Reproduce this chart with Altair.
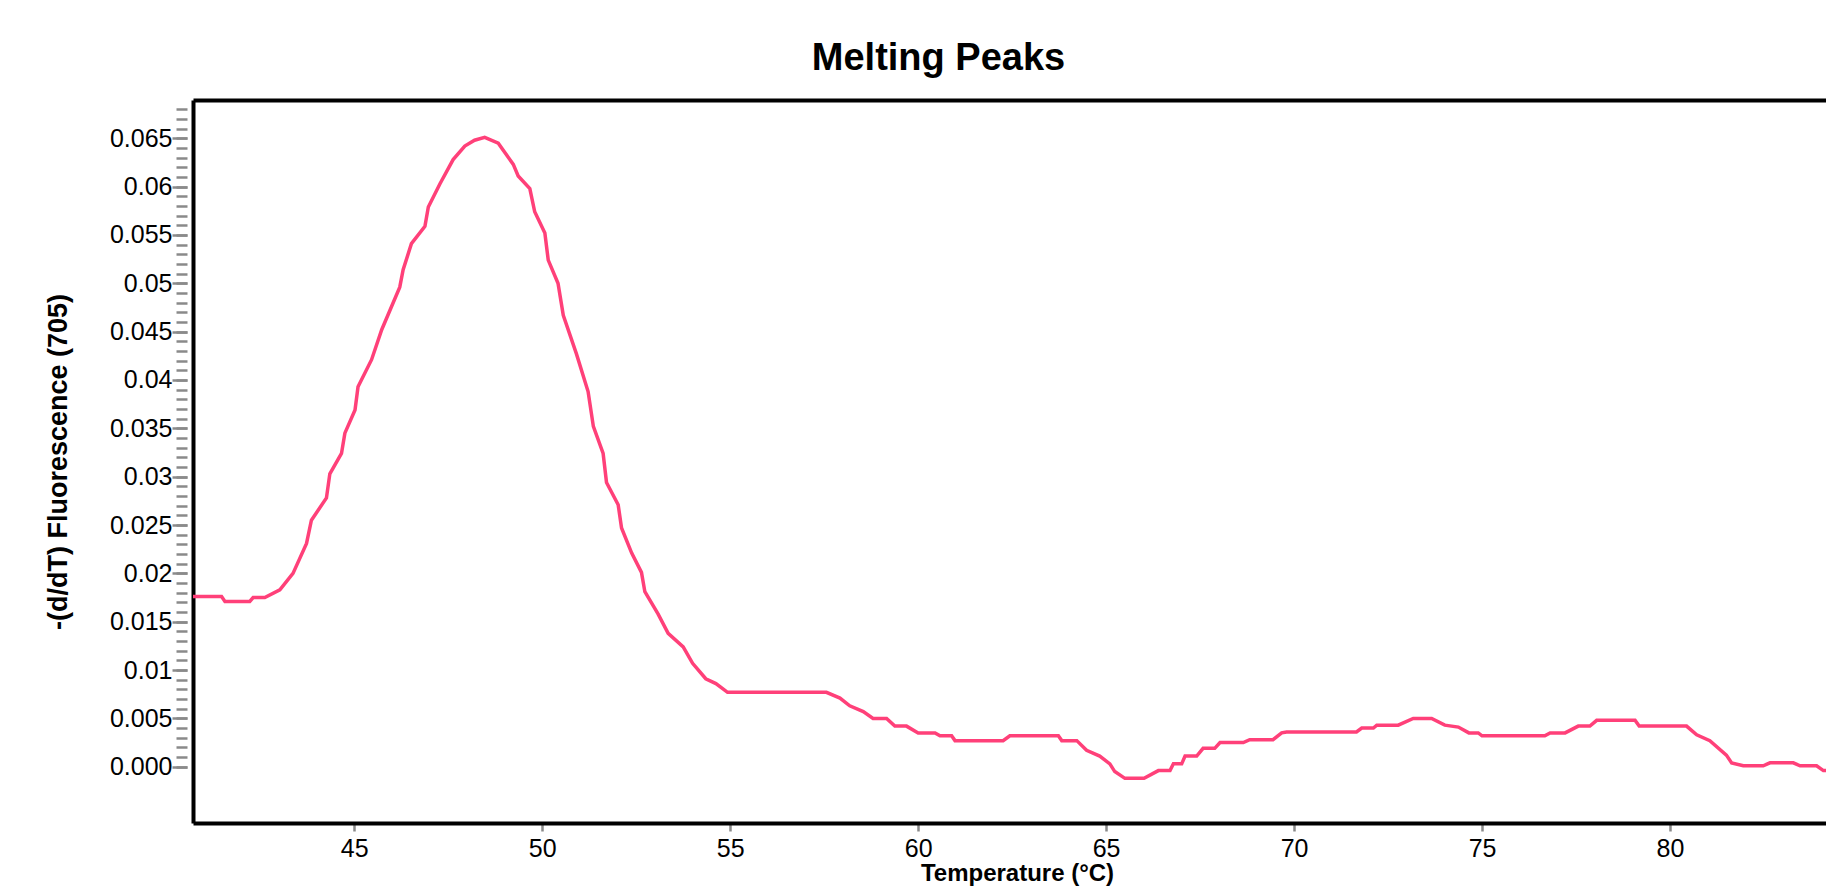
import altair as alt
import pandas as pd

# ---- data ----
TEMPS = [40.60, 41.47, 41.56, 42.22, 42.31, 42.62, 43.02, 43.37, 43.73, 43.86,
         44.26, 44.35, 44.66, 44.75, 45.02, 45.10, 45.46, 45.73, 46.21, 46.30,
         46.52, 46.88, 46.97, 47.28, 47.63, 47.94, 48.20, 48.47, 48.83, 49.23,
         49.36, 49.67, 49.80, 50.07, 50.16, 50.42, 50.56, 50.91, 51.22, 51.36,
         51.62, 51.71, 52.02, 52.11, 52.38, 52.64, 52.73, 53.08, 53.35, 53.75,
         54.00, 54.35, 54.62, 54.93, 57.56, 57.92, 58.18, 58.54, 58.80, 59.16,
         59.38, 59.69, 60.00, 60.45, 60.58, 60.89, 60.98, 62.26, 62.44, 63.73,
         63.82, 64.22, 64.48, 64.83, 65.10, 65.23, 65.50, 66.01, 66.39, 66.70,
         66.79, 67.01, 67.10, 67.41, 67.58, 67.89, 68.03, 68.65, 68.82, 69.44,
         69.67, 69.80, 71.66, 71.80, 72.11, 72.20, 72.77, 73.17, 73.66, 74.01,
         74.37, 74.65, 74.90, 75.00, 76.67, 76.81, 77.21, 77.56, 77.87, 78.05,
         79.07, 79.18, 80.44, 80.71, 81.06, 81.50, 81.64, 81.95, 82.48, 82.66,
         83.28, 83.46, 83.90, 84.08, 84.40]
VALUES = [0.0176, 0.0176, 0.0171, 0.0171, 0.0175, 0.0175, 0.0183, 0.0200, 0.0231, 0.0255,
          0.0278, 0.0303, 0.0324, 0.0345, 0.0369, 0.0393, 0.0421, 0.0452, 0.0496, 0.0514,
          0.0541, 0.0559, 0.0579, 0.0603, 0.0628, 0.0642, 0.0648, 0.0651, 0.0645, 0.0623,
          0.0611, 0.0598, 0.0574, 0.0552, 0.0524, 0.0500, 0.0467, 0.0427, 0.0388, 0.0352,
          0.0324, 0.0294, 0.0271, 0.0247, 0.0221, 0.0201, 0.0181, 0.0158, 0.0138, 0.0124,
          0.0107, 0.0091, 0.0086, 0.0077, 0.0077, 0.0071, 0.0063, 0.0057, 0.0050, 0.0050,
          0.0042, 0.0042, 0.0035, 0.0035, 0.0032, 0.0032, 0.0027, 0.0027, 0.0032, 0.0032,
          0.0027, 0.0027, 0.0017, 0.0011, 0.0003, -0.0005, -0.0012, -0.0012, -0.0004, -0.0004,
          0.0003, 0.0003, 0.0011, 0.0011, 0.0019, 0.0019, 0.0025, 0.0025, 0.0028, 0.0028,
          0.0035, 0.0036, 0.0036, 0.0040, 0.0040, 0.0043, 0.0043, 0.0050, 0.0050, 0.0043,
          0.0041, 0.0035, 0.0035, 0.0032, 0.0032, 0.0035, 0.0035, 0.0042, 0.0042, 0.0048,
          0.0048, 0.0042, 0.0042, 0.0033, 0.0027, 0.0012, 0.0004, 0.0001, 0.0001, 0.0004,
          0.0004, 0.0001, 0.0001, -0.0004, -0.0004]

X_TICKS = [45, 50, 55, 60, 65, 70, 75, 80]
Y_TICKS = [0.0, 0.005, 0.01, 0.015, 0.02, 0.025, 0.03, 0.035, 0.04, 0.045,
           0.05, 0.055, 0.06, 0.065]
Y_MINOR = [i / 1000 for i in range(0, 69)]

TITLE = "Melting Peaks"
X_TITLE = "Temperature (°C)"
Y_TITLE = "-(d/dT) Fluorescence (705)"

FONT = "Liberation Sans"
LINE_COLOR = "#ff4079"
TICK_COLOR = "#8a8a8a"

df = pd.DataFrame({"temp": TEMPS, "value": VALUES})

x_scale = alt.Scale(domain=[40.71, 84.15], nice=False, zero=False)
y_scale = alt.Scale(domain=[-0.00582, 0.06896], nice=False, zero=False)

base = alt.Chart(df)

# Layer A: the visible curve, bottom axis, left frame line and y title
layer_a = base.mark_line(color=LINE_COLOR, strokeWidth=3.5, clip=True).encode(
    x=alt.X("temp:Q", scale=x_scale, axis=alt.Axis(
        orient="bottom", values=X_TICKS, grid=False,
        domain=True, domainColor="black", domainWidth=4,
        ticks=True, tickColor=TICK_COLOR, tickWidth=2.5, tickSize=8,
        labelFont=FONT, labelFontSize=25, labelColor="#000", labelPadding=5,
        labelFlush=False,
        title=X_TITLE, titleFont=FONT, titleFontSize=24, titleFontWeight="bold",
        titleColor="#000", titleX=824, titleY=57, titleAlign="center",
        titleBaseline="alphabetic")),
    y=alt.Y("value:Q", scale=y_scale, axis=alt.Axis(
        orient="left", grid=False, domain=True, domainColor="black", domainWidth=4,
        ticks=False, labels=False,
        title=Y_TITLE, titleFont=FONT, titleFontSize=27, titleFontWeight="bold",
        titleColor="#000", titleAngle=270, titleX=-135, titleY=361.5,
        titleAlign="center", titleBaseline="middle")),
)

# Layer B: top frame line, major y ticks with labels
layer_b = base.mark_line(opacity=0).encode(
    x=alt.X("temp:Q", scale=x_scale, axis=alt.Axis(
        orient="top", grid=False, domain=True, domainColor="black", domainWidth=4,
        ticks=False, labels=False, title=None)),
    y=alt.Y("value:Q", scale=y_scale, axis=alt.Axis(
        orient="left", offset=6, values=Y_TICKS, grid=False, domain=False,
        ticks=True, tickColor=TICK_COLOR, tickWidth=2.5, tickSize=15,
        labelFont=FONT, labelFontSize=25, labelColor="#000", labelPadding=0,
        labelExpr="datum.value == 0 ? '0.000' : format(datum.value, '.3~f')",
        title=None)),
)

# Layer C: minor y ticks
layer_c = base.mark_line(opacity=0).encode(
    x=alt.X("temp:Q", scale=x_scale, axis=None),
    y=alt.Y("value:Q", scale=y_scale, axis=alt.Axis(
        orient="left", offset=6, values=Y_MINOR, grid=False, domain=False,
        ticks=True, tickColor=TICK_COLOR, tickWidth=2.5, tickSize=11,
        labels=False, title=None)),
)

chart = alt.layer(layer_c, layer_b, layer_a).resolve_axis(
    x="independent", y="independent"
).properties(
    width=1633,
    height=723,
    padding={"left": 185, "top": 92, "right": 0, "bottom": 63},
    autosize=alt.AutoSizeParams(type="none"),
    title=alt.TitleParams(
        text=TITLE, font=FONT, fontSize=38, fontWeight="bold", color="#000",
        anchor="middle", frame="group", dx=-71, dy=35, offset=27,
        baseline="alphabetic"),
).configure_view(stroke=None)

chart.save("out.html", embed_options={"renderer": "svg", "actions": False})
